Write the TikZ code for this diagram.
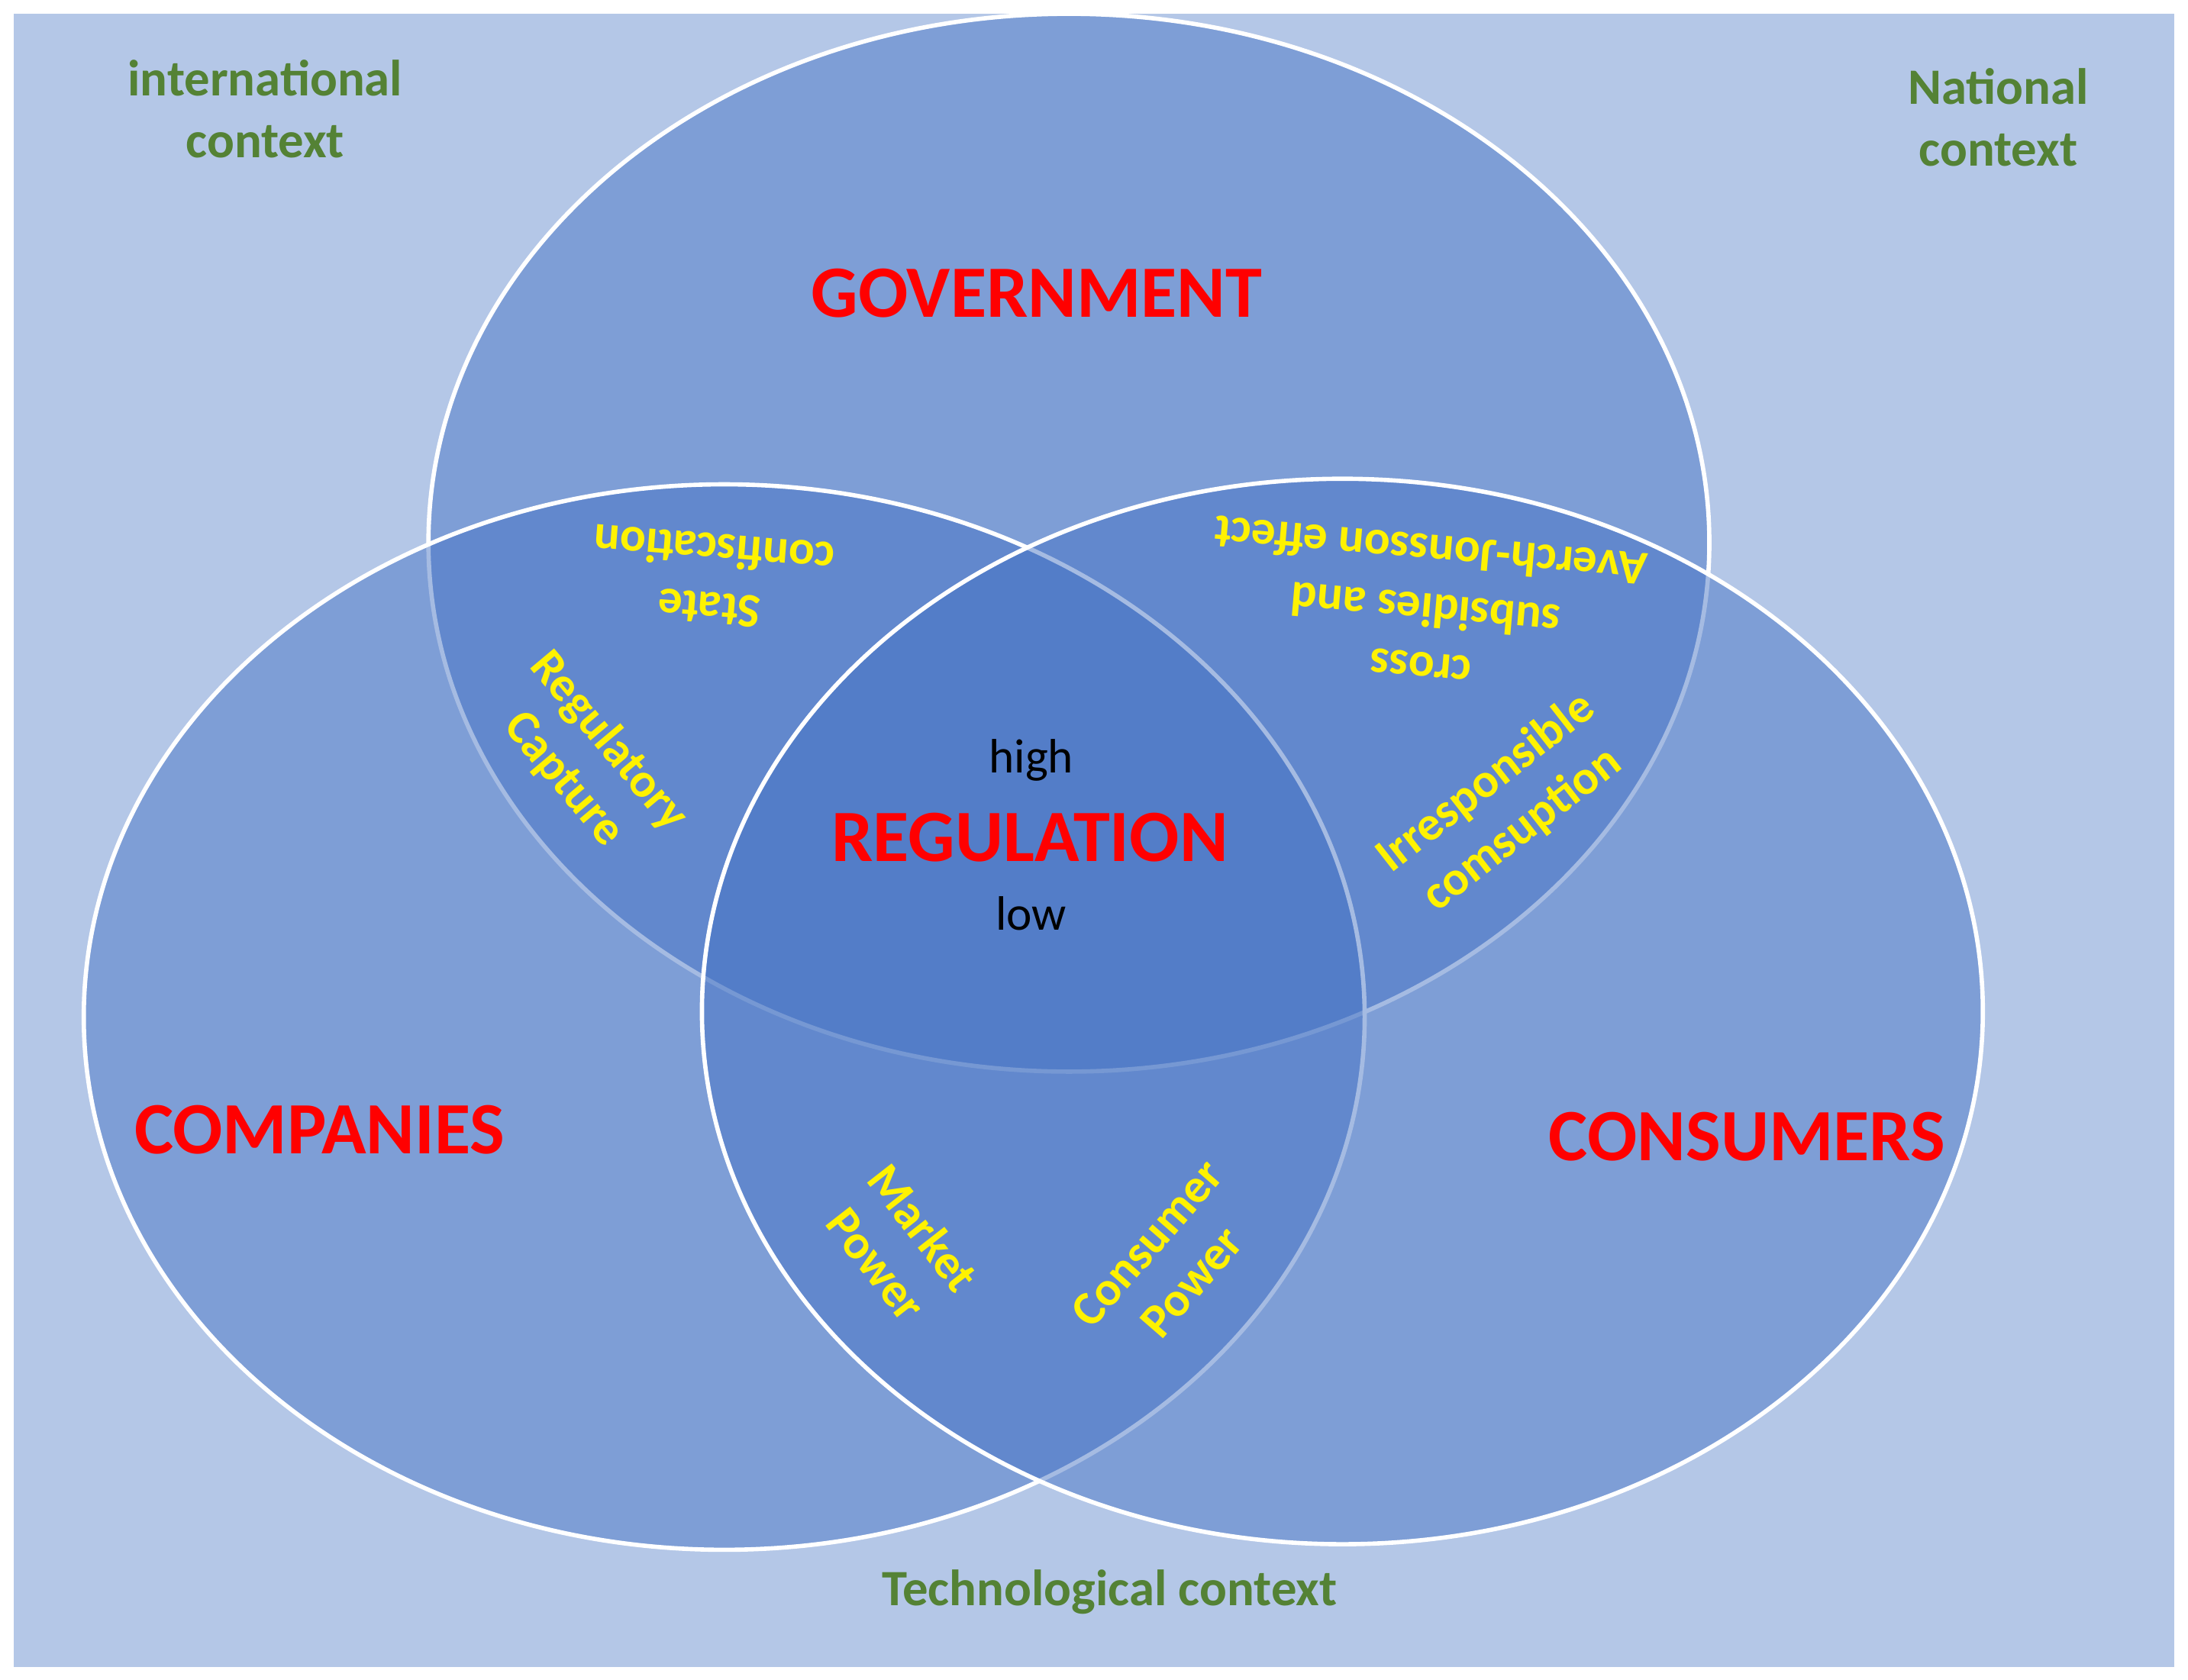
\documentclass[tikz,border=0pt]{standalone}
\usepackage{fontspec}
\setmainfont{Carlito}
\begin{document}
\begin{tikzpicture}[x=0.01828cm,y=-0.01828cm,
  circ/.style={fill=blue0,fill opacity=0.48,draw=white,draw opacity=1,line width=1.6pt},
  big/.style={text=red0,font=\fontsize{27.5}{30}\selectfont\bfseries},
  ctx/.style={text=green0,font=\fontsize{19}{23}\selectfont\bfseries,align=center},
  yel/.style={text=yellow,font=\fontsize{18}{22}\selectfont\bfseries,align=center,inner sep=0pt},
  blk/.style={text=black,font=\fontsize{18}{20}\selectfont}]
\definecolor{bg}{HTML}{B4C7E7}
\definecolor{blue0}{HTML}{4472C4}
\definecolor{red0}{HTML}{FF0000}
\definecolor{green0}{HTML}{548235}
\useasboundingbox (0,0) rectangle (1568,1204);
\fill[white] (0,0) rectangle (1568,1204);
\fill[bg] (10,10) rectangle (1558,1195);
\draw[circ] (766,389) ellipse [x radius=8.39cm, y radius=6.93cm];
\draw[circ] (519,729) ellipse [x radius=8.39cm, y radius=6.98cm];
\draw[circ] (962,725) ellipse [x radius=8.39cm, y radius=6.98cm];
\node[big] (gov) at (743,210) {GOVERNMENT};
\node[big] (com) at (229,810) {COMPANIES};
\node[big] (con) at (1252,815) {CONSUMERS};
\node[big] (reg) at (738,600) {REGULATION};
\node[blk] (hi) at (739,545) {high};
\node[blk] (lo) at (739,655) {low};
\node[ctx] (int) at (190,78) {international\\context};
\node[ctx] (nat) at (1432,84) {National\\context};
\node[ctx] (tec) at (795,1141) {Technological context};
\node[yel,rotate=175.5] (sc) at (510,415) {State\\confiscation};
\node[yel,rotate=175] (cs) at (1022,434) {cross\\subsidies and\\Averch-Jonsson effect};
\node[yel,rotate=-50] (rc) at (420,545) {Regulatory\\Capture};
\node[yel,rotate=38] (ic) at (1078,578) {Irresponsible\\comsuption};
\node[yel,rotate=-52] (mp) at (645,893) {Market\\Power};
\node[yel,rotate=49] (cp) at (838,905) {Consumer\\Power};
\end{tikzpicture}
\end{document}
